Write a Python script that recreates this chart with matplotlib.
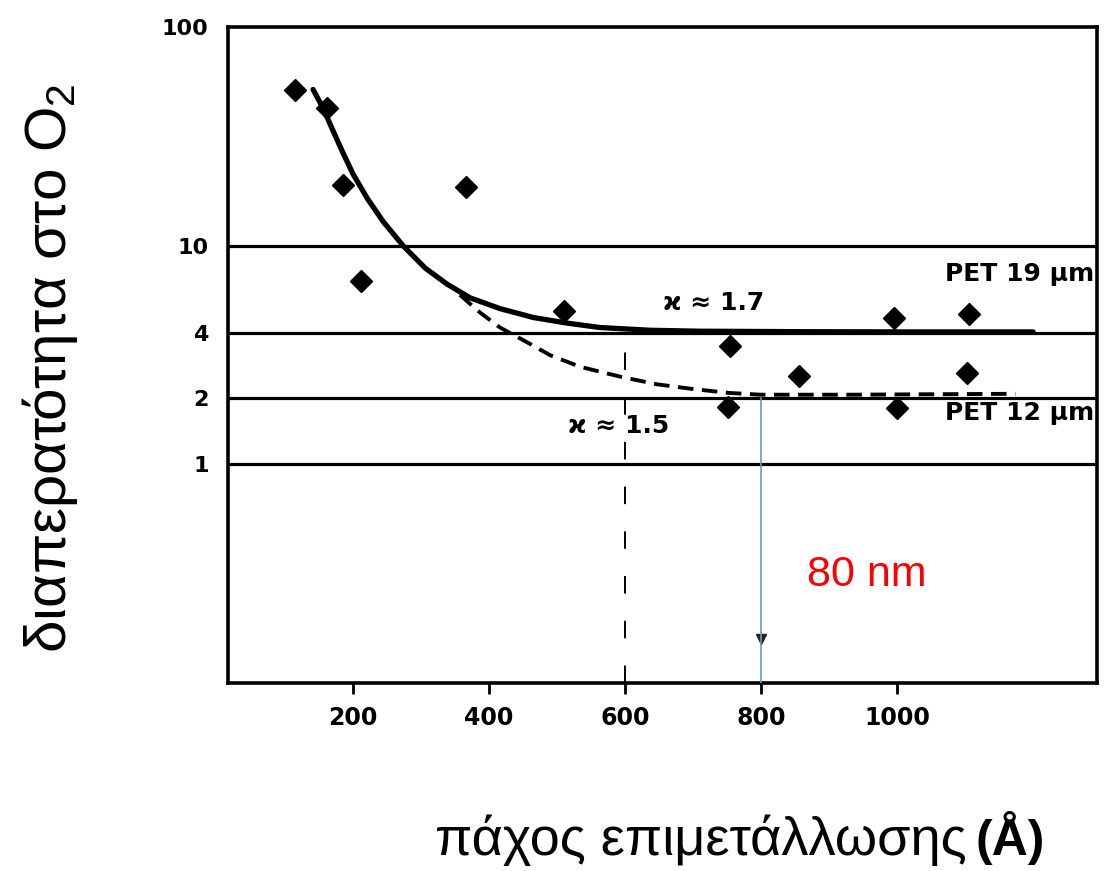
import matplotlib.pyplot as plt

# measured points (thickness in Angstrom, O2 permeability)
pts_x = [115, 162, 185, 212, 366, 510, 754, 996, 1106, 856, 1103, 751, 1000]
pts_y = [51.7, 42.4, 19.0, 6.9, 18.6, 5.0, 3.48, 4.69, 4.88, 2.52, 2.61, 1.83, 1.81]

# fitted curve, k = 1.7 (solid)
fit17_x = [141, 156, 169, 184, 200, 221, 244, 274, 306, 338, 372, 416, 465, 515, 563, 637, 710, 857, 1012, 1200]
fit17_y = [51.8, 42.4, 34.3, 27.0, 21.2, 16.4, 12.9, 9.94, 7.89, 6.67, 5.77, 5.15, 4.69, 4.42, 4.22, 4.1, 4.06, 4.04, 4.03, 4.03]

# fitted curve, k = 1.5 (dashed)
fit15_x = [357, 387, 416, 456, 490, 534, 594, 647, 699, 752, 799, 931, 1174]
fit15_y = [5.95, 4.93, 4.22, 3.61, 3.15, 2.79, 2.51, 2.32, 2.21, 2.12, 2.08, 2.08, 2.1]

ref_levels = [10, 4, 2, 1]
y_ticks = [100, 10, 4, 2, 1]
x_ticks = [200, 400, 600, 800, 1000]

fig = plt.figure(figsize=(11.07, 8.71), dpi=100)
ax = fig.add_axes([0.206, 0.216, 0.785, 0.753])
ax.set_yscale('log')
ax.set_xlim(16, 1294)
ax.set_ylim(0.1, 100)

for lv in ref_levels:
    ax.axhline(lv, color='black', lw=2.3, zorder=1)

ax.plot(fit17_x, fit17_y, color='black', lw=3.8, solid_capstyle='round', zorder=3)
ax.plot(fit15_x, fit15_y, color='black', lw=2.8, linestyle=(0, (4, 2.2)), zorder=3)
ax.plot(pts_x, pts_y, linestyle='none', marker='D', ms=11, color='black', zorder=4)

# guide lines
ax.plot([600, 600], [0.1, 4.1], color='black', lw=1.4, linestyle=(0, (9, 14)), zorder=2)
ax.plot([800, 800], [0.1, 2.0], color='#5b9bd5', lw=1.2, zorder=5)
ax.plot([800], [0.158], marker='v', ms=7, color='#222222', zorder=4)

ax.text(1290, 7.4, 'PET 19 μm', ha='right', va='center', fontsize=18, fontweight='bold')
ax.text(1290, 1.72, 'PET 12 μm', ha='right', va='center', fontsize=18, fontweight='bold')
ax.text(656, 5.48, 'ϰ ≈ 1.7', ha='left', va='center', fontsize=18, fontweight='bold')
ax.text(516, 1.49, 'ϰ ≈ 1.5', ha='left', va='center', fontsize=18, fontweight='bold')
ax.text(868, 0.31, '80 nm', ha='left', va='center', fontsize=31, color='red',
        family='Liberation Sans')

ax.set_xticks(x_ticks)
ax.set_xticklabels([str(v) for v in x_ticks], fontsize=17, fontweight='bold')
ax.set_yticks(y_ticks)
ax.set_yticklabels([str(v) for v in y_ticks], fontsize=16, fontweight='bold')
ax.minorticks_off()
ax.tick_params(axis='x', direction='out', length=8, width=2, pad=9)
ax.tick_params(axis='y', length=0, pad=14)
for s in ax.spines.values():
    s.set_linewidth(2.6)

plt.rcParams['mathtext.default'] = 'regular'
fig.text(0.045, 0.577, 'διαπερατότητα στο O$_2$', rotation=90, ha='center', va='center',
         fontsize=42, family='Liberation Sans')
fig.text(0.873, 0.018, 'πάχος επιμετάλλωσης', ha='right', va='baseline',
         fontsize=39, family='Liberation Sans')
fig.text(0.881, 0.018, '(Å)', ha='left', va='baseline', fontsize=36,
         fontweight='bold', family='Liberation Sans')

fig.savefig('out.png', dpi=100)
